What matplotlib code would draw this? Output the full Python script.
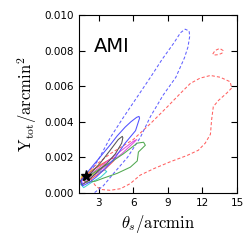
import matplotlib
matplotlib.use("Agg")
import matplotlib.pyplot as plt

plt.rcParams['mathtext.fontset'] = 'cm'

# contour outlines: (theta_s [arcmin], Y_tot [arcmin^2])
blue_outer_x = [1.2, 2.0, 3.0, 4.0, 5.1, 6.35, 7.5, 8.5, 9.5, 10.1, 10.5, 10.85, 10.9, 10.75, 10.45, 9.7, 8.6, 7.5, 6.6, 5.5, 4.3, 3.4, 2.6, 2.2, 1.2]
blue_outer_y = [0.0002, 0.0009, 0.0019, 0.0031, 0.0042, 0.0054, 0.0065, 0.0075, 0.0084, 0.0090, 0.0092, 0.0091, 0.0088, 0.0082, 0.0076, 0.0065, 0.0055, 0.0043, 0.0031, 0.0020, 0.0011, 0.0004, 0.0000, -0.0003, -0.0003]

red_outer_x = [1.9, 3.0, 4.0, 5.0, 6.0, 7.5, 8.9, 10.1, 10.95, 11.8, 12.7, 13.55, 14.4, 14.55, 14.1, 13.4, 12.95, 12.8, 12.7, 12.25, 11.65, 10.65, 9.2, 7.8, 6.6, 5.75, 4.9, 4.0, 3.15, 2.7, 2.3, 1.9]
red_outer_y = [0.0011, 0.0017, 0.0022, 0.0026, 0.0030, 0.0039, 0.0048, 0.0056, 0.00615, 0.00645, 0.0066, 0.0065, 0.00625, 0.0059, 0.0056, 0.0052, 0.00485, 0.0041, 0.0033, 0.0028, 0.0024, 0.0021, 0.00175, 0.00137, 0.0010, 0.00053, 0.00024, 0.00015, 0.0002, 0.00043, 0.0008, 0.0011]

red_island_x = [12.9, 13.1, 13.5, 13.8, 13.7, 13.4, 13.05, 12.9]
red_island_y = [0.0078, 0.0080, 0.00812, 0.0080, 0.00785, 0.00777, 0.00775, 0.0078]

blue_inner_x = [1.5, 2.2, 3.1, 4.0, 4.6, 5.3, 5.8, 6.3, 6.5, 6.55, 6.45, 6.2, 5.3, 4.45, 3.6, 2.8, 2.2, 1.6, 1.5]
blue_inner_y = [0.0007, 0.0013, 0.0020, 0.0027, 0.0032, 0.0037, 0.0040, 0.00425, 0.0043, 0.0042, 0.0040, 0.0035, 0.0028, 0.0020, 0.0014, 0.0009, 0.0006, 0.0004, 0.0007]

grey_x = [1.4, 2.3, 3.1, 4.0, 4.7, 5.05, 5.1, 5.0, 4.45, 3.7, 2.9, 2.1, 1.55, 1.4]
grey_y = [0.0007, 0.0011, 0.00165, 0.0024, 0.0030, 0.00318, 0.0031, 0.0028, 0.0022, 0.00165, 0.0012, 0.0007, 0.00045, 0.0007]

green_x = [1.6, 2.5, 3.2, 4.0, 5.15, 6.35, 6.9, 7.05, 6.45, 6.35, 5.75, 4.6, 3.4, 2.7, 2.0, 1.6]
green_y = [0.0008, 0.0011, 0.0014, 0.0017, 0.0022, 0.0028, 0.00285, 0.00268, 0.0023, 0.0018, 0.00145, 0.0011, 0.00083, 0.00066, 0.0006, 0.0008]

magenta_x = [1.4, 2.2, 3.2, 4.2, 5.2, 6.0, 6.3, 6.0, 5.0, 4.0, 3.0, 2.2, 1.6, 1.4]
magenta_y = [0.0006, 0.0010, 0.0015, 0.0020, 0.0025, 0.0029, 0.0030, 0.0028, 0.0022, 0.0017, 0.0012, 0.0008, 0.0005, 0.0006]

red_inner_x = [1.5, 2.3, 3.2, 4.0, 4.5, 4.3, 3.5, 2.6, 1.9, 1.5]
red_inner_y = [0.0008, 0.0012, 0.0016, 0.0019, 0.0020, 0.0018, 0.0013, 0.0009, 0.0006, 0.0008]

cyan_x = [1.3, 2.0, 2.8, 3.5, 3.7, 3.2, 2.4, 1.7, 1.3]
cyan_y = [0.0006, 0.0009, 0.0011, 0.0013, 0.0012, 0.0009, 0.0006, 0.0003, 0.0006]

yellow_x = [1.5, 2.2, 3.0, 3.6, 3.4, 2.6, 1.9, 1.5]
yellow_y = [0.0009, 0.0012, 0.0015, 0.0017, 0.0015, 0.0011, 0.0008, 0.0009]

star_x = [1.93]
star_y = [0.00094]

fig = plt.figure(figsize=(2.51, 2.49), dpi=100)
ax = fig.add_axes([0.315, 0.225, 0.629, 0.715])

dash = (0, (3, 2))
ax.plot(red_outer_x, red_outer_y, ls=dash, color='#ff6060', lw=0.75)
ax.plot(red_island_x, red_island_y, ls=dash, color='#ff6060', lw=0.75)
ax.plot(blue_outer_x, blue_outer_y, ls=dash, color='#6060ff', lw=0.75)
ax.plot(cyan_x, cyan_y, '-', color='#40d0d0', lw=0.75)
ax.plot(yellow_x, yellow_y, '-', color='#e0d040', lw=0.75)
ax.plot(red_inner_x, red_inner_y, '-', color='#ff5050', lw=0.75)
ax.plot(magenta_x, magenta_y, '-', color='#e050e0', lw=0.75)
ax.plot(green_x, green_y, '-', color='#50a850', lw=0.75)
ax.plot(grey_x, grey_y, '-', color='#555555', lw=0.75)
ax.plot(blue_inner_x, blue_inner_y, '-', color='#5050ff', lw=0.75)
ax.plot(star_x, star_y, '*', color='k', ms=8)

ax.text(2.55, 0.0079, 'AMI', fontsize=14)

ax.set_xlim(1.3, 15)
ax.set_ylim(0, 0.010)
ax.set_xticks([3, 6, 9, 12, 15])
ax.set_yticks([0.000, 0.002, 0.004, 0.006, 0.008, 0.010])
ax.set_yticklabels(['0.000', '0.002', '0.004', '0.006', '0.008', '0.010'])
ax.tick_params(direction='in', top=True, right=True, labelsize=7.5, length=4)
ax.set_xlabel(r'$\theta_s/\mathrm{arcmin}$', fontsize=12)
ax.set_ylabel(r'$\mathrm{Y_{tot}/arcmin}^2$', fontsize=12)

fig.savefig('out.png', dpi=100)
